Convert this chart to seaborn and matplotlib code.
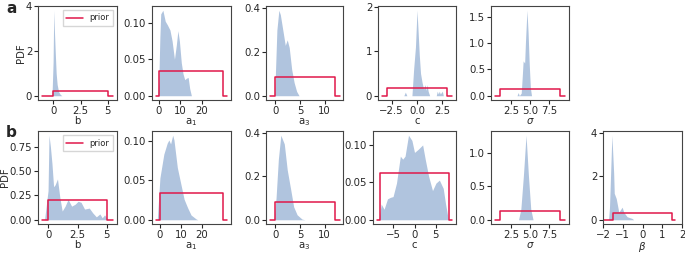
import matplotlib
matplotlib.use("Agg")
import matplotlib.pyplot as plt
import seaborn as sns

# ---------------- row a : posterior densities ----------------
a_b_x = [-0.1, 0.0, 0.06, 0.12, 0.2, 0.28, 0.37, 0.5, 0.65, 0.8]
a_b_pdf = [0, 1.5, 3.8, 2.9, 1.9, 1.0, 0.5, 0.18, 0.06, 0]

a_a1_x = [-0.5, 0.0, 0.5, 0.9, 1.9, 3.0, 4.0, 5.2, 6.2, 7.3, 8.2, 8.9, 9.6, 10.5, 11.3, 12.1, 12.9, 13.7, 14.4, 15.2]
a_a1_pdf = [0, 0.02, 0.08, 0.112, 0.117, 0.102, 0.097, 0.09, 0.075, 0.05, 0.07, 0.089, 0.075, 0.045, 0.03, 0.022, 0.024, 0.025, 0.01, 0]

a_a3_x = [-0.2, 0.0, 0.3, 0.7, 1.0, 1.5, 2.0, 2.4, 2.8, 3.3, 3.8, 4.3, 4.8]
a_a3_pdf = [0, 0.1, 0.3, 0.39, 0.37, 0.3, 0.23, 0.255, 0.22, 0.12, 0.06, 0.02, 0]

a_c_x = [-1.3, -1.15, -1.0, -0.5, -0.33, -0.15, 0.0, 0.12, 0.23, 0.35, 0.5, 0.65, 0.8, 0.9, 1.0, 1.1, 1.25, 1.9, 2.0, 2.1, 2.2, 2.3, 2.5, 2.6]
a_c_pdf = [0, 0.08, 0, 0, 0.6, 1.1, 1.92, 1.4, 0.9, 0.5, 0.3, 0.15, 0.25, 0.12, 0.25, 0.1, 0, 0, 0.1, 0.04, 0.1, 0.04, 0.1, 0]

a_s_x = [3.3, 3.45, 3.6, 3.85, 4.0, 4.1, 4.3, 4.4, 4.6, 4.75, 4.9, 5.05, 5.2]
a_s_pdf = [0, 0.06, 0, 0.05, 0.4, 0.66, 0.62, 1.0, 1.62, 1.2, 0.6, 0.15, 0]

# ---------------- row b ----------------
b_b_x = [-0.3, 0.0, 0.08, 0.2, 0.33, 0.47, 0.6, 0.8, 1.0, 1.2, 1.45, 1.7, 2.0, 2.3, 2.55, 2.8, 3.1, 3.5, 3.8, 4.1, 4.4, 4.6, 4.8, 5.1]
b_b_pdf = [0, 0.3, 0.87, 0.75, 0.58, 0.34, 0.36, 0.42, 0.23, 0.09, 0.14, 0.21, 0.14, 0.16, 0.19, 0.18, 0.11, 0.12, 0.07, 0.03, 0.06, 0.02, 0.05, 0]

b_a1_x = [-1.2, 0.05, 1.9, 3.5, 4.3, 5.1, 6.1, 6.7, 8.3, 9.9, 11.5, 13.2, 14.8, 17.2, 18.0]
b_a1_pdf = [0, 0.053, 0.083, 0.097, 0.101, 0.096, 0.107, 0.101, 0.066, 0.046, 0.026, 0.015, 0.006, 0.001, 0]

b_a3_x = [-0.3, 0.13, 0.6, 1.1, 1.8, 2.4, 3.1, 3.7, 4.4, 5.4, 6.0]
b_a3_pdf = [0, 0.1, 0.28, 0.39, 0.35, 0.23, 0.14, 0.06, 0.023, 0.003, 0]

b_c_x = [-8.3, -7.76, -7.1, -6.3, -5.6, -5.0, -4.2, -3.3, -2.75, -2.2, -1.4, -0.6, 0.0, 0.83, 1.9, 2.5, 3.3, 4.2, 5.0, 5.8, 6.7, 7.25, 7.9]
b_c_pdf = [0, 0.021, 0.014, 0.028, 0.030, 0.031, 0.049, 0.085, 0.081, 0.085, 0.113, 0.106, 0.09, 0.094, 0.1, 0.081, 0.058, 0.039, 0.049, 0.053, 0.042, 0.021, 0]

b_s_x = [3.5, 3.8, 4.14, 4.48, 4.79, 5.1, 5.4]
b_s_pdf = [0, 0.16, 0.67, 1.27, 0.67, 0.16, 0]

b_beta_x = [-1.72, -1.67, -1.55, -1.46, -1.43, -1.33, -1.2, -1.03, -0.95, -0.78, -0.52, -0.45]
b_beta_pdf = [0, 0.58, 3.9, 2.16, 1.22, 0.98, 0.35, 0.58, 0.35, 0.14, 0.06, 0]

# ---------------- uniform priors: bounds and plotted extent ----------------
prior_lo = {"b": 0, "a1": 0, "a3": 0, "c_a": -3, "c_b": -8, "s": 1, "beta": -1.5}
prior_hi = {"b": 5, "a1": 30, "a3": 12, "c_a": 3, "c_b": 8, "s": 9, "beta": 1.5}
prior_ext_a = {"b": (-1.05, 5.5), "a1": (-1.5, 32), "a3": (-1.2, 13), "c_a": (-3.5, 3.5), "s": (0.35, 9.65)}
prior_ext_b = {"b": (-0.55, 5.55), "a1": (-2, 32), "a3": (-1.2, 13), "c_b": (-8.8, 8.8), "s": (0.35, 9.65), "beta": (-1.95, 1.65)}

FILL = "#b0c4de"
RED = "#e0184a"
FS = 7.3


def prior_step(key, ext):
    lo, hi = prior_lo[key], prior_hi[key]
    h = 1.0 / (hi - lo)
    xs = [ext[0], lo, lo, hi, hi, ext[1]]
    ys = [0, 0, h, h, 0, 0]
    return xs, ys


def panel(fig, box, x, pdf, key, ext, xlabel, xticks, xtl, yticks, ytl=None,
          ylabel=None, legend=False, xlim=None):
    l, r, t, b = box
    W, H = 685, 254
    ax = fig.add_axes([l / W, 1 - b / H, (r - l) / W, (b - t) / H])
    ax.fill_between(x, pdf, 0, color=FILL, lw=0)
    px, py = prior_step(key, ext)
    sns.lineplot(x=px, y=py, ax=ax, color=RED, lw=1.1, sort=False,
                 estimator=None, label="prior" if legend else None, legend=legend)
    ax.set_xticks(xticks)
    ax.set_xticklabels(xtl)
    ax.set_yticks(yticks)
    if ytl is not None:
        ax.set_yticklabels(ytl)
    if xlim is not None:
        ax.set_xlim(*xlim)
    ax.set_xlabel(xlabel, fontsize=FS, labelpad=0)
    ax.set_ylabel(ylabel if ylabel else "", fontsize=FS, labelpad=0)
    ax.tick_params(labelsize=FS, length=3, pad=1.2, width=0.8)
    for s in ax.spines.values():
        s.set_linewidth(0.8)
        s.set_color("#444444")
    if legend:
        ax.legend(loc="upper right", fontsize=6, handlelength=2.0,
                  borderpad=0.4, frameon=True, fancybox=False)
    return ax


sns.set_theme(style="ticks")
plt.rcParams["font.family"] = ["DejaVu Sans"]
fig = plt.figure(figsize=(6.85, 2.54), dpi=100)

ta, ba = 6, 100
tb, bb = 131, 224

# row a
panel(fig, (38, 117, ta, ba), a_b_x, a_b_pdf, "b", prior_ext_a["b"], "b",
      [0, 2.5, 5], ["0", "2.5", "5"], [0, 2, 4], ylabel="PDF", legend=True)
panel(fig, (152, 231, ta, ba), a_a1_x, a_a1_pdf, "a1", prior_ext_a["a1"], "a$_1$",
      [0, 10, 20], ["0", "10", "20"], [0, 0.05, 0.10], ["0.00", "0.05", "0.10"])
panel(fig, (266, 343, ta, ba), a_a3_x, a_a3_pdf, "a3", prior_ext_a["a3"], "a$_3$",
      [0, 5, 10], ["0", "5", "10"], [0, 0.2, 0.4], ["0.0", "0.2", "0.4"])
panel(fig, (378, 456, ta, ba), a_c_x, a_c_pdf, "c_a", prior_ext_a["c_a"], "c",
      [-2.5, 0, 2.5], ["\u22122.5", "0.0", "2.5"], [0, 1, 2])
panel(fig, (491, 569, ta, ba), a_s_x, a_s_pdf, "s", prior_ext_a["s"], r"$\sigma$",
      [2.5, 5, 7.5], ["2.5", "5.0", "7.5"], [0, 0.5, 1.0, 1.5], ["0.0", "0.5", "1.0", "1.5"])

# row b
panel(fig, (38, 117, tb, bb), b_b_x, b_b_pdf, "b", prior_ext_b["b"], "b",
      [0, 2.5, 5], ["0", "2.5", "5"], [0, 0.25, 0.5, 0.75],
      ["0.00", "0.25", "0.50", "0.75"], ylabel="PDF", legend=True)
panel(fig, (152, 231, tb, bb), b_a1_x, b_a1_pdf, "a1", prior_ext_b["a1"], "a$_1$",
      [0, 10, 20], ["0", "10", "20"], [0, 0.05, 0.10], ["0.00", "0.05", "0.10"])
panel(fig, (266, 343, tb, bb), b_a3_x, b_a3_pdf, "a3", prior_ext_b["a3"], "a$_3$",
      [0, 5, 10], ["0", "5", "10"], [0, 0.2, 0.4], ["0.0", "0.2", "0.4"])
panel(fig, (373, 456, tb, bb), b_c_x, b_c_pdf, "c_b", prior_ext_b["c_b"], "c",
      [-5, 0, 5], ["\u22125", "0", "5"], [0, 0.05, 0.10], ["0.00", "0.05", "0.10"])
panel(fig, (491, 569, tb, bb), b_s_x, b_s_pdf, "s", prior_ext_b["s"], r"$\sigma$",
      [2.5, 5, 7.5], ["2.5", "5.0", "7.5"], [0, 0.5, 1.0], ["0.0", "0.5", "1.0"])
panel(fig, (603, 682, tb, bb), b_beta_x, b_beta_pdf, "beta", prior_ext_b["beta"], r"$\beta$",
      [-2, -1, 0, 1, 2], ["\u22122", "\u22121", "0", "1", "2"], [0, 2, 4], xlim=(-2, 2))

fig.text(6 / 685, 1 - 13 / 254, "a", fontsize=11, fontweight="bold")
fig.text(6 / 685, 1 - 137 / 254, "b", fontsize=11, fontweight="bold")

fig.savefig("out.png", dpi=100)
plt.close(fig)
